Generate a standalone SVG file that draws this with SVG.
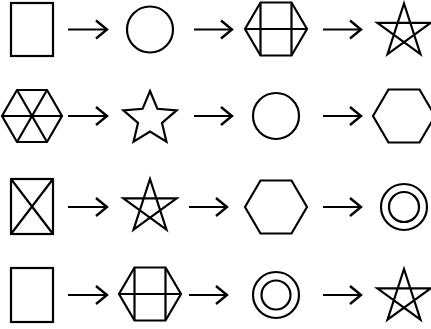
<svg xmlns="http://www.w3.org/2000/svg" width="431" height="329" viewBox="0 0 431 329">
<style>
.s{fill:none;stroke:#000;stroke-width:2.2;stroke-linejoin:miter}
.a{fill:none;stroke:#000;stroke-width:2.2}
</style>
<defs>
<marker id="ah" markerUnits="userSpaceOnUse" markerWidth="16" markerHeight="22" refX="13" refY="11" orient="auto">
<path d="M2,2 L13,11 L2,20" fill="none" stroke="#000" stroke-width="2.4"/>
</marker>
<path id="hex" d="M-31,0 L-15.5,-26.5 L15.5,-26.5 L31,0 L15.5,26.5 L-15.5,26.5 Z"/>
<path id="pent" d="M0,-28 L16.46,22.65 L-26.63,-8.65 L26.63,-8.65 L-16.46,22.65 Z"/>
<path id="star" d="M0,-28 L7.41,-10.19 L26.63,-8.65 L11.98,3.89 L16.46,22.65 L0,12.6 L-16.46,22.65 L-11.98,3.89 L-26.63,-8.65 L-7.41,-10.19 Z"/>
</defs>
<g id="connectors">
<path class="a" d="M68,29.5 H107" marker-end="url(#ah)"/>
<path class="a" d="M194,29.5 H232" marker-end="url(#ah)"/>
<path class="a" d="M323,29.5 H361" marker-end="url(#ah)"/>
<path class="a" d="M68,116 H107" marker-end="url(#ah)"/>
<path class="a" d="M194,116 H232" marker-end="url(#ah)"/>
<path class="a" d="M323,116 H361" marker-end="url(#ah)"/>
<path class="a" d="M68,207 H107" marker-end="url(#ah)"/>
<path class="a" d="M189,207 H227" marker-end="url(#ah)"/>
<path class="a" d="M323,207 H361" marker-end="url(#ah)"/>
<path class="a" d="M68,295 H107" marker-end="url(#ah)"/>
<path class="a" d="M189,295 H227" marker-end="url(#ah)"/>
<path class="a" d="M323,295 H361" marker-end="url(#ah)"/>
</g>
<!-- row 1 -->
<g id="r1n1"><rect class="s" x="11" y="3" width="42" height="53"/></g>
<g id="r1n2"><circle class="s" cx="150" cy="29.5" r="23"/></g>
<g id="r1n3" transform="translate(276,29)"><use href="#hex" class="s"/><path class="s" d="M-15.5,-26.5 V26.5 M15.5,-26.5 V26.5 M-31,0 H31"/></g>
<g id="r1n4" transform="translate(404,31.5)"><use href="#pent" class="s"/></g>
<!-- row 2 -->
<g id="r2n1" transform="translate(32,116)"><path class="s" d="M-30,0 L-15,-26 L15,-26 L30,0 L15,26 L-15,26 Z M-30,0 H30 M-15,-26 L15,26 M15,-26 L-15,26"/></g>
<g id="r2n2" transform="translate(150,119)"><use href="#star" class="s"/></g>
<g id="r2n3"><circle class="s" cx="276" cy="116" r="23"/></g>
<g id="r2n4" transform="translate(404,116)"><use href="#hex" class="s"/></g>
<!-- row 3 -->
<g id="r3n1"><rect class="s" x="11" y="179" width="42" height="55"/><path class="s" d="M11,179 L53,234 M53,179 L11,234"/></g>
<g id="r3n2" transform="translate(150,207)"><use href="#pent" class="s"/></g>
<g id="r3n3" transform="translate(276,207)"><use href="#hex" class="s"/></g>
<g id="r3n4"><circle class="s" cx="404" cy="207" r="23"/><circle class="s" cx="404" cy="207" r="15"/></g>
<!-- row 4 -->
<g id="r4n1"><rect class="s" x="11" y="268" width="42" height="54"/></g>
<g id="r4n2" transform="translate(150,294)"><use href="#hex" class="s"/><path class="s" d="M-15.5,-26.5 V26.5 M15.5,-26.5 V26.5 M-31,0 H31"/></g>
<g id="r4n3"><circle class="s" cx="276" cy="295" r="23"/><circle class="s" cx="276" cy="295" r="14.5"/></g>
<g id="r4n4" transform="translate(404,297)"><use href="#pent" class="s"/></g>
</svg>
